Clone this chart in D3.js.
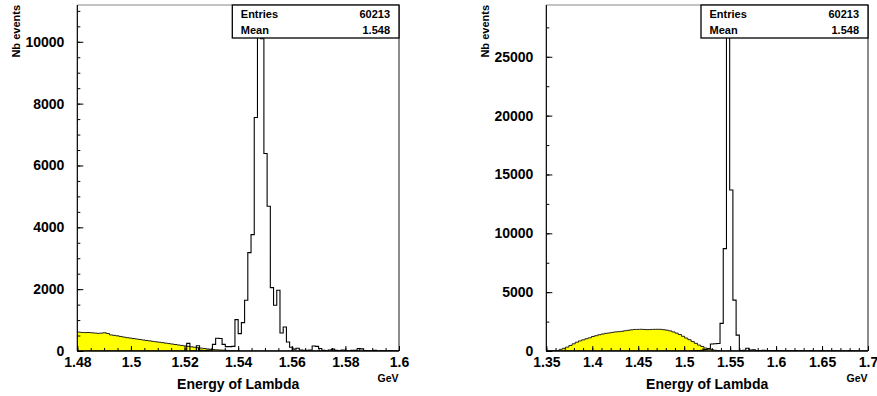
<!DOCTYPE html>
<html><head><meta charset="utf-8">
<script src="https://cdn.jsdelivr.net/npm/d3@7"></script>
<style>
html,body{margin:0;padding:0;background:#fff;}
svg{display:block;font-family:"Liberation Sans",Arial,Helvetica,sans-serif;font-weight:bold;}
</style></head>
<body><svg id="c" width="877" height="396"></svg>
<script>
// ---------- data ----------
const leftRange = [1.48, 1.6];
const rightRange = [1.35, 1.7];
const leftYMax = 11190;
const rightYMax = 29400;

// left panel: 100 bins, 1.48 - 1.60
const leftSignal = [
  0,0,0,0,0,0,0,0,0,0, 0,0,0,0,0,0,0,0,0,0,
  0,0,0,0,0,0,0,0,0,0, 0,0,0,0,248,10,5,172,20,15,
  20,30,215,410,405,215,140,140,150,1014, 561,917,1640,3182,3765,7551,10170,10100,6386,4682,
  2050,1478,1963,583,777,291,120,60,90,30, 20,20,30,160,150,80,20,10,30,60,
  20,10,30,10,0,20,20,80,70,10, 10,0,20,0,10,0,0,10,0,0
];
const leftBackground = [
  610,600,595,598,590,580,572,578,590,565, 520,505,490,470,450,432,418,402,388,372,
  356,342,328,312,298,284,270,255,240,225, 210,194,180,165,150,135,120,107,94,80,
  67,55,46,38,31,25,20,14,9,5, 2,0,0,0,0,0,0,0,0,0,
  0,0,0,0,0,0,0,0,0,0, 0,0,0,0,0,0,0,0,0,0,
  0,0,0,0,0,0,0,0,0,0, 0,0,0,0,0,0,0,0,0,0
];

// right panel: 100 bins, 1.35 - 1.70
const rightSignal = [
  0,0,0,0,0,0,0,0,0,0, 0,0,0,0,0,0,0,0,0,0,
  0,0,0,0,0,0,0,0,0,0, 0,0,0,0,0,0,0,0,0,0,
  0,0,0,0,0,10,20,30,60,120, 200,600,620,640,2350,8700,26720,13680,4320,1350,
  40,60,230,80,100,30,20,60,20,40, 10,30,10,20,0,10,0,20,0,10,
  0,0,10,0,0,10,0,0,0,10, 0,0,0,0,10,0,0,0,0,0
];
const rightBackground = [
  0,0,5,40,140,230,330,470,610,750, 860,950,1040,1120,1230,1300,1380,1440,1500,1530,
  1580,1620,1640,1670,1720,1760,1800,1830,1835,1845, 1830,1815,1830,1840,1845,1840,1810,1770,1710,1620,
  1520,1400,1250,1100,960,800,650,500,380,250, 160,120,60,25,5,0,0,0,0,0,
  0,0,0,0,0,0,0,0,0,0, 0,0,0,0,0,0,0,0,0,0,
  0,0,0,0,0,0,0,0,0,0, 0,0,0,0,0,0,0,0,0,0
];

const leftXMajor = [1.48,1.5,1.52,1.54,1.56,1.58,1.6];
const leftXLabels = ["1.48","1.5","1.52","1.54","1.56","1.58","1.6"];
const leftYMajor = [0,2000,4000,6000,8000,10000];
const leftYLabels = ["0","2000","4000","6000","8000","10000"];
const rightXMajor = [1.35,1.4,1.45,1.5,1.55,1.6,1.65,1.7];
const rightXLabels = ["1.35","1.4","1.45","1.5","1.55","1.6","1.65","1.7"];
const rightYMajor = [0,5000,10000,15000,20000,25000];
const rightYLabels = ["0","5000","10000","15000","20000","25000"];

const statNames = ["Entries","Mean"];
const statValues = ["60213","1.548"];
const xTitle = "Energy of Lambda";
const yTitle = "Nb events";
const unit = "GeV";

// ---------- drawing ----------
const svg = d3.select("#c");
const yTop = 5, yBot = 351;

function panel(o) {
  const g = svg.append("g");
  const x = d3.scaleLinear().domain(o.xr).range([o.x0, o.x1]);
  const y = d3.scaleLinear().domain([0, o.ymax]).range([yBot, yTop]);
  const n = o.sig.length;
  const w = (o.xr[1] - o.xr[0]) / n;
  const pts = vals => { const p = vals.map((v,i)=>[o.xr[0]+i*w, v]); p.push([o.xr[1], vals[n-1]]); return p; };

  const cid = "clip" + o.id;
  svg.append("clipPath").attr("id", cid).append("rect")
    .attr("x", o.x0).attr("y", yTop).attr("width", o.x1 - o.x0).attr("height", yBot - yTop);
  const hg = g.append("g").attr("clip-path", `url(#${cid})`);

  const area = d3.area().curve(d3.curveStepAfter).x(d=>x(d[0])).y0(y(0)).y1(d=>y(d[1]));
  const line = d3.line().curve(d3.curveStepAfter).x(d=>x(d[0])).y(d=>y(d[1]));

  hg.append("path").attr("d", area(pts(o.bg))).attr("fill", "#ffff00").attr("stroke", "none");
  hg.append("path").attr("d", line(pts(o.bg))).attr("fill", "none").attr("stroke", "#222").attr("stroke-width", 1);
  hg.append("path").attr("d", line(pts(o.sig))).attr("fill", "none").attr("stroke", "#000").attr("stroke-width", 1.1);

  // frame top/right
  g.append("line").attr("x1", o.x0).attr("x2", o.x1).attr("y1", yTop).attr("y2", yTop).attr("stroke", "#888").attr("stroke-width", 1);
  g.append("line").attr("x1", o.x1).attr("x2", o.x1).attr("y1", yTop).attr("y2", yBot).attr("stroke", "#666").attr("stroke-width", 1.5);

  // y axis
  const yMinor = d3.range(0, o.ymax, o.yMinorStep);
  g.append("g").attr("transform", `translate(${o.x0},0)`)
    .call(d3.axisLeft(y).tickValues(yMinor).tickSize(-3).tickFormat(""))
    .call(s=>s.select(".domain").remove());
  const ya = g.append("g").attr("transform", `translate(${o.x0},0)`)
    .call(d3.axisLeft(y).tickValues(o.yMajor).tickSize(-6).tickPadding(13)
      .tickFormat((d,i)=>o.yLabels[i]));
  ya.select(".domain").attr("d", `M0,${yTop}V${yBot}`).attr("stroke-width", 1.2);
  ya.selectAll("text").attr("font-size", 14).attr("font-family", "Liberation Sans, Arial, sans-serif").attr("font-weight", "bold").attr("fill", "#000");

  // x axis
  const xMinor = d3.range(o.xr[0], o.xr[1] + 1e-9, o.xMinorStep);
  g.append("g").attr("transform", `translate(0,${yBot})`)
    .call(d3.axisBottom(x).tickValues(xMinor).tickSize(-3).tickFormat(""))
    .call(s=>s.select(".domain").remove());
  const xa = g.append("g").attr("transform", `translate(0,${yBot})`)
    .call(d3.axisBottom(x).tickValues(o.xMajor).tickSize(-5).tickPadding(6)
      .tickFormat((d,i)=>o.xLabels[i]));
  xa.select(".domain").attr("d", `M${o.x0},0H${o.x1}`).attr("stroke-width", 1.5);
  xa.selectAll("text").attr("font-size", 14).attr("font-family", "Liberation Sans, Arial, sans-serif").attr("font-weight", "bold").attr("fill", "#000");

  // titles
  g.append("text").attr("x", (o.x0 + o.x1) / 2).attr("y", 389).attr("text-anchor", "middle")
    .attr("font-size", 14).text(xTitle);
  g.append("text").attr("x", o.x1 - 0.5).attr("y", 382).attr("text-anchor", "end")
    .attr("font-size", 10.5).text(unit);
  g.append("text").attr("transform", `translate(${o.ytx},${yTop}) rotate(-90)`).attr("text-anchor", "end")
    .attr("font-size", 11).text(yTitle);

  // stats box
  const bx = o.boxX;
  g.append("rect").attr("x", bx).attr("y", yTop).attr("width", o.x1 - bx).attr("height", 33)
    .attr("fill", "#fff").attr("stroke", "#000").attr("stroke-width", 1.3);
  statNames.forEach((s, i) => {
    g.append("text").attr("x", bx + 8.5).attr("y", 17.5 + i * 16.8).attr("font-size", 11).text(s);
    g.append("text").attr("x", o.x1 - 9).attr("y", 17.5 + i * 16.8).attr("font-size", 11)
      .attr("text-anchor", "end").text(statValues[i]);
  });
}

panel({id:"L", x0:77.33, x1:399, xr:leftRange, ymax:leftYMax, sig:leftSignal, bg:leftBackground,
  yMajor:leftYMajor, yLabels:leftYLabels, yMinorStep:500, xMajor:leftXMajor, xLabels:leftXLabels,
  xMinorStep:0.005, ytx:20, boxX:232.3});
panel({id:"R", x0:546.33, x1:868, xr:rightRange, ymax:rightYMax, sig:rightSignal, bg:rightBackground,
  yMajor:rightYMajor, yLabels:rightYLabels, yMinorStep:2500, xMajor:rightXMajor, xLabels:rightXLabels,
  xMinorStep:0.01, ytx:488.5, boxX:701});
</script></body></html>
